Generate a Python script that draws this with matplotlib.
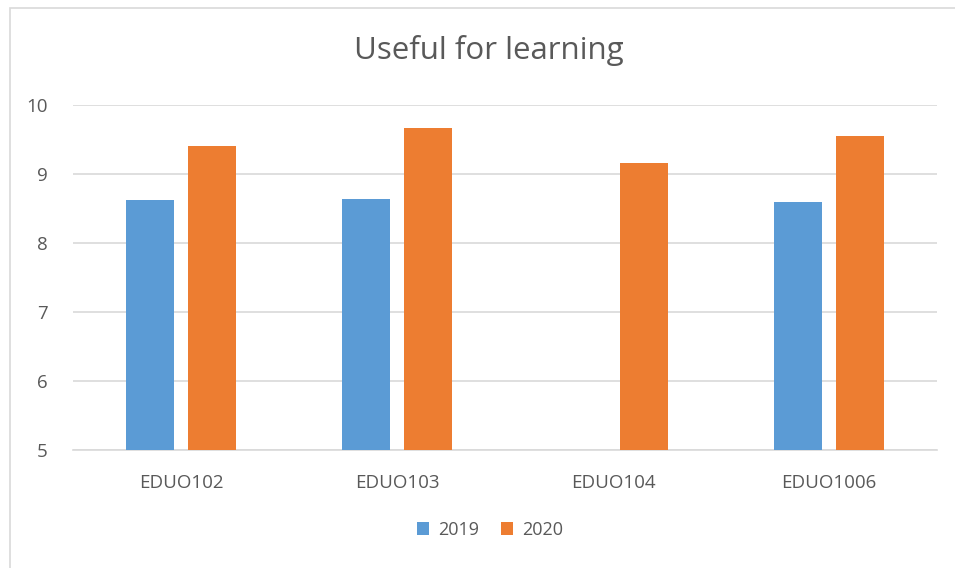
import matplotlib.pyplot as plt
import numpy as np
from matplotlib.patches import Rectangle

plt.rcParams['font.family'] = ['Open Sans', 'DejaVu Sans']

categories = ['EDUO102', 'EDUO103', 'EDUO104', 'EDUO1006']
years = ['2019', '2020']
vals_2019 = [8.63, 8.64, np.nan, 8.60]
vals_2020 = [9.40, 9.66, 9.16, 9.55]
colors = ['#5B9BD5', '#ED7D31']
text_col = '#595959'

fig = plt.figure(figsize=(9.55, 5.68), dpi=100)
# outer chart border
fig.patches.append(Rectangle((10/955, -0.01), 1.0, 1 - 8/568 + 0.01, transform=fig.transFigure,
                             fill=False, edgecolor='#D9D9D9', linewidth=1.2))

ax = fig.add_axes([73/955, 1 - 450/568, (937 - 73)/955, (450 - 105)/568])

x = np.arange(len(categories))
w = 0.222
off = 0.144
ax.bar(x - off, vals_2019, w, color=colors[0], label=years[0], zorder=3)
ax.bar(x + off, vals_2020, w, color=colors[1], label=years[1], zorder=3)

ax.set_xlim(-0.5, len(categories) - 0.5)
ax.set_ylim(5, 10)
ax.set_yticks([5, 6, 7, 8, 9, 10])
ax.yaxis.grid(True, color='#D9D9D9', linewidth=1.2, zorder=0)
ax.set_xticks(x)
ax.set_xticklabels(categories)
ax.tick_params(axis='both', length=0, colors=text_col, labelsize=13.5)
ax.tick_params(axis='y', pad=18)
ax.tick_params(axis='x', pad=17)
for s in ['top', 'right', 'left']:
    ax.spines[s].set_visible(False)
ax.spines['bottom'].set_color('#D9D9D9')
ax.spines['bottom'].set_linewidth(1.2)

fig.text(489/955, 1 - 50/568, 'Useful for learning', ha='center', va='center',
         fontsize=22.5, color=text_col)

fig.legend(loc='center', bbox_to_anchor=(490/955, 1 - 530/568), ncol=2, frameon=False,
           fontsize=13, handlelength=0.7, handleheight=0.7, handletextpad=0.5,
           columnspacing=1.2, labelcolor=text_col)

fig.savefig('out.png', dpi=100)
